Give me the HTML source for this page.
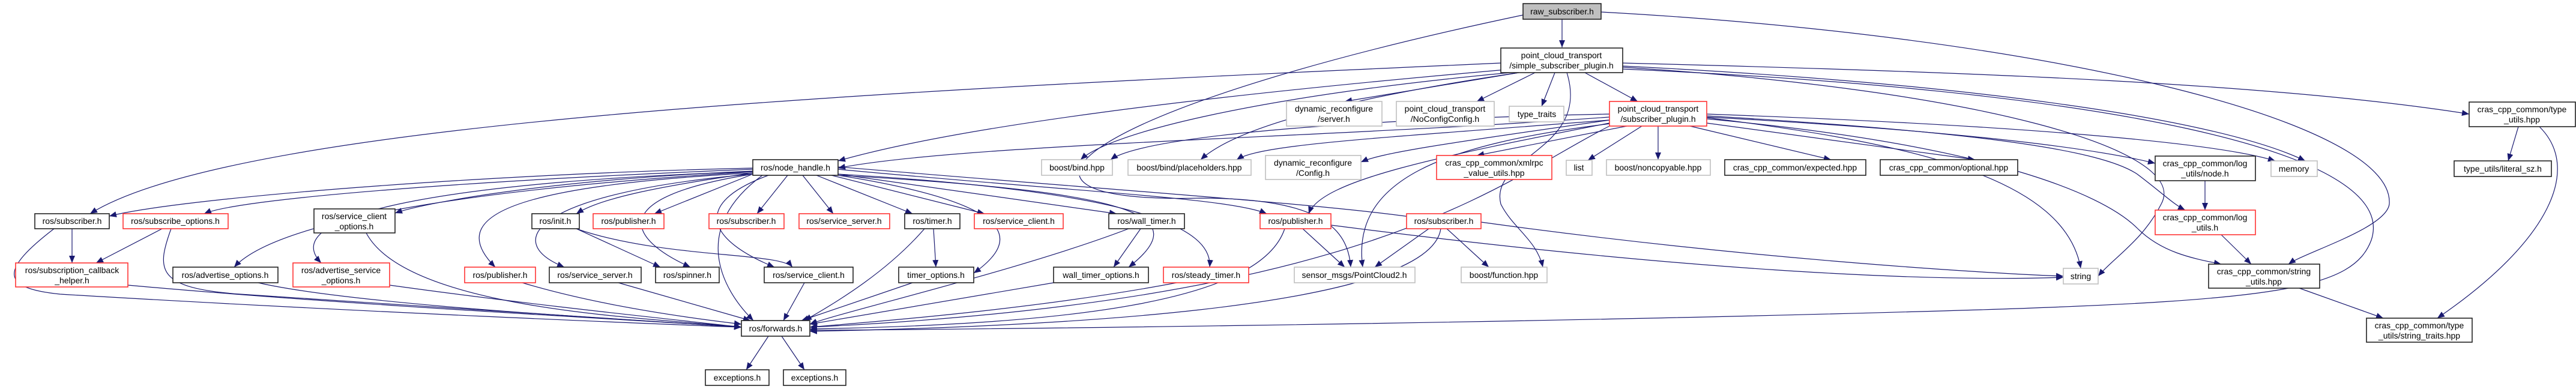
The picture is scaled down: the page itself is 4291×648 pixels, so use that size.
<!DOCTYPE html>
<html><head><meta charset="utf-8"><style>
html,body{margin:0;padding:0;background:#fff;}
svg{display:block;}
text{font-family:"Liberation Sans",sans-serif;font-size:14px;fill:#000;text-anchor:middle;}
.b{fill:#fff;stroke:#222;stroke-width:1.6;}
.r{fill:#fff;stroke:#f33;stroke-width:1.6;}
.g{fill:#fff;stroke:#bfbfbf;stroke-width:1.6;}
.e path{fill:none;stroke:#191970;stroke-width:1.2;}
</style></head><body>
<svg width="4291" height="648" viewBox="0 0 4291 648" xmlns="http://www.w3.org/2000/svg">
<defs><marker id="a" markerUnits="userSpaceOnUse" markerWidth="13" markerHeight="11" refX="12" refY="5" orient="auto"><path d="M0,0 L12,5 L0,10 z" fill="#191970"/></marker></defs>
<g class="e">
<path marker-end="url(#a)" d="M2602,32 L2602,79"/>
<path marker-end="url(#a)" d="M2537,25 C1800,180 1600,340 2000,330 C2200,330 2245,380 2250,445"/>
<path marker-end="url(#a)" d="M2667,20 C3400,60 3990,200 3980,340 C3975,380 3840,420 3812,440"/>
<path marker-end="url(#a)" d="M2500,105 C1500,150 400,200 150,356"/>
<path marker-end="url(#a)" d="M2520,115 C2000,160 1600,210 1396,268"/>
<path marker-end="url(#a)" d="M2515,121 C2100,160 1850,220 1800,266"/>
<path marker-end="url(#a)" d="M2530,121 C2200,170 2050,220 2000,266"/>
<path marker-end="url(#a)" d="M2530,121 L2240,169"/>
<path marker-end="url(#a)" d="M2557,121 L2460,169"/>
<path marker-end="url(#a)" d="M2590,121 L2568,177"/>
<path marker-end="url(#a)" d="M2640,121 L2728,169"/>
<path marker-end="url(#a)" d="M2610,121 C2650,250 2480,260 2500,340 C2520,380 2560,400 2570,445"/>
<path marker-end="url(#a)" d="M2703,105 C3300,120 3800,140 4113,190"/>
<path marker-end="url(#a)" d="M2703,110 C3300,140 3700,200 3840,268"/>
<path marker-end="url(#a)" d="M2703,112 C3300,150 3650,250 3600,340 C3570,400 3520,430 3495,460"/>
<path marker-end="url(#a)" d="M2703,115 C3500,150 4000,250 3950,400 C3920,480 3800,500 3300,516 C2500,540 1500,550 1349,550"/>
<path marker-end="url(#a)" d="M2681,195 C2200,230 1600,240 1396,280"/>
<path marker-end="url(#a)" d="M2681,200 C2400,240 2300,255 2267,270"/>
<path marker-end="url(#a)" d="M2710,210 L2460,259"/>
<path marker-end="url(#a)" d="M2735,210 L2645,267"/>
<path marker-end="url(#a)" d="M2762,210 L2762,266"/>
<path marker-end="url(#a)" d="M2815,210 L3050,266"/>
<path marker-end="url(#a)" d="M2843,205 L3290,266"/>
<path marker-end="url(#a)" d="M2843,195 C3300,220 3500,250 3590,272"/>
<path marker-end="url(#a)" d="M2843,190 C3400,210 3700,240 3790,268"/>
<path marker-end="url(#a)" d="M2843,193 C3300,220 3500,250 3560,290 C3600,320 3620,340 3640,350"/>
<path marker-end="url(#a)" d="M2843,196 C3200,240 3440,300 3466,447"/>
<path marker-end="url(#a)" d="M2843,198 C3300,240 3500,320 3560,380 C3600,420 3650,430 3700,440"/>
<path marker-end="url(#a)" d="M2681,190 C2200,200 1900,230 1850,266"/>
<path marker-end="url(#a)" d="M2681,200 C2300,230 2100,240 2060,266"/>
<path marker-end="url(#a)" d="M2681,205 C2400,260 2200,300 2180,356"/>
<path marker-end="url(#a)" d="M2690,205 C2400,240 2250,300 2270,445"/>
<path marker-end="url(#a)" d="M2681,210 C2500,300 2300,500 1349,545"/>
<path marker-end="url(#a)" d="M1254,280 C800,290 300,330 182,360"/>
<path marker-end="url(#a)" d="M1254,282 C800,300 400,330 340,356"/>
<path marker-end="url(#a)" d="M1254,285 C900,300 700,340 658,355"/>
<path marker-end="url(#a)" d="M1254,286 C700,320 450,380 390,445"/>
<path marker-end="url(#a)" d="M1254,286 C800,300 450,350 535,438"/>
<path marker-end="url(#a)" d="M1254,288 C1100,310 1000,330 960,356"/>
<path marker-end="url(#a)" d="M1254,290 L1090,356"/>
<path marker-end="url(#a)" d="M1312,292 L1261,356"/>
<path marker-end="url(#a)" d="M1337,292 L1388,356"/>
<path marker-end="url(#a)" d="M1360,292 L1520,356"/>
<path marker-end="url(#a)" d="M1385,292 L1640,356"/>
<path marker-end="url(#a)" d="M1396,290 L1860,356"/>
<path marker-end="url(#a)" d="M1396,282 C1800,320 2050,330 2110,356"/>
<path marker-end="url(#a)" d="M1396,278 C1900,320 2200,340 2355,362"/>
<path marker-end="url(#a)" d="M1254,288 C850,310 740,360 825,445"/>
<path marker-end="url(#a)" d="M1254,290 C900,320 830,400 940,445"/>
<path marker-end="url(#a)" d="M1254,290 C1000,330 1050,400 1150,445"/>
<path marker-end="url(#a)" d="M1280,292 C1150,340 1180,400 1290,445"/>
<path marker-end="url(#a)" d="M1396,292 C1700,340 1700,400 1622,455"/>
<path marker-end="url(#a)" d="M1396,292 C1900,320 1990,360 1880,445"/>
<path marker-end="url(#a)" d="M1396,290 C1900,320 2020,380 2015,445"/>
<path marker-end="url(#a)" d="M1270,292 C1150,380 1200,480 1255,534"/>
<path marker-end="url(#a)" d="M120,381 L120,438"/>
<path marker-end="url(#a)" d="M270,381 L160,438"/>
<path marker-end="url(#a)" d="M90,381 C0,450 0,480 100,490 C600,520 1100,540 1235,545"/>
<path marker-end="url(#a)" d="M285,381 C260,450 260,480 400,490 C800,515 1100,535 1235,545"/>
<path marker-end="url(#a)" d="M610,388 C680,520 1100,530 1235,545"/>
<path marker-end="url(#a)" d="M960,381 L1100,445"/>
<path marker-end="url(#a)" d="M960,381 C1100,430 1300,420 1320,445"/>
<path marker-end="url(#a)" d="M1555,381 L1559,445"/>
<path marker-end="url(#a)" d="M1540,381 C1480,450 1400,500 1340,534"/>
<path marker-end="url(#a)" d="M1900,381 L1855,445"/>
<path marker-end="url(#a)" d="M1880,381 C1700,450 1400,520 1349,540"/>
<path marker-end="url(#a)" d="M2170,381 L2240,445"/>
<path marker-end="url(#a)" d="M2140,381 C2100,500 1800,540 1349,548"/>
<path marker-end="url(#a)" d="M2217,375 C2800,450 3200,470 3437,462"/>
<path marker-end="url(#a)" d="M2380,381 L2290,445"/>
<path marker-end="url(#a)" d="M2410,381 L2480,445"/>
<path marker-end="url(#a)" d="M2400,381 C2380,520 1700,545 1349,552"/>
<path marker-end="url(#a)" d="M2467,370 C2900,430 3300,455 3437,460"/>
<path marker-end="url(#a)" d="M213,475 C600,510 1100,535 1235,545"/>
<path marker-end="url(#a)" d="M430,471 C600,510 1100,535 1235,545"/>
<path marker-end="url(#a)" d="M649,475 C900,510 1150,535 1235,545"/>
<path marker-end="url(#a)" d="M870,471 C1000,510 1150,530 1235,540"/>
<path marker-end="url(#a)" d="M1030,471 L1250,534"/>
<path marker-end="url(#a)" d="M1340,471 L1305,534"/>
<path marker-end="url(#a)" d="M1520,471 L1335,534"/>
<path marker-end="url(#a)" d="M1755,471 L1349,540"/>
<path marker-end="url(#a)" d="M1960,471 C1700,520 1400,540 1349,545"/>
<path marker-end="url(#a)" d="M1280,560 L1243,616"/>
<path marker-end="url(#a)" d="M1302,560 L1340,616"/>
<path marker-end="url(#a)" d="M3673,301 L3673,350"/>
<path marker-end="url(#a)" d="M3700,391 L3750,440"/>
<path marker-end="url(#a)" d="M3830,480 L3970,530"/>
<path marker-end="url(#a)" d="M4195,211 L4178,268"/>
<path marker-end="url(#a)" d="M4230,211 C4300,280 4250,400 4060,530"/>
</g>
<g>
<rect x="2537" y="6" width="130" height="26" fill="#bfbfbf" stroke="#222" stroke-width="1.6"/><text x="2602" y="24">raw_subscriber.h</text>
<rect class="b" x="2500" y="80" width="203" height="41"/><text x="2601" y="97">point_cloud_transport</text><text x="2601" y="114">/simple_subscriber_plugin.h</text>
<rect class="g" x="2143" y="169" width="159" height="41"/><text x="2222" y="186">dynamic_reconfigure</text><text x="2222" y="203">/server.h</text>
<rect class="g" x="2326" y="169" width="163" height="41"/><text x="2407" y="186">point_cloud_transport</text><text x="2407" y="203">/NoConfigConfig.h</text>
<rect class="g" x="2514" y="177" width="91" height="26"/><text x="2560" y="195">type_traits</text>
<rect class="r" x="2681" y="169" width="162" height="41"/><text x="2762" y="186">point_cloud_transport</text><text x="2762" y="203">/subscriber_plugin.h</text>
<rect class="b" x="4113" y="170" width="177" height="41"/><text x="4201" y="187">cras_cpp_common/type</text><text x="4201" y="204">_utils.hpp</text>
<rect class="b" x="1254" y="266" width="142" height="26"/><text x="1325" y="284">ros/node_handle.h</text>
<rect class="g" x="1735" y="266" width="118" height="26"/><text x="1794" y="284">boost/bind.hpp</text>
<rect class="g" x="1879" y="266" width="205" height="26"/><text x="1981" y="284">boost/bind/placeholders.hpp</text>
<rect class="g" x="2108" y="259" width="159" height="40"/><text x="2187" y="276">dynamic_reconfigure</text><text x="2187" y="293">/Config.h</text>
<rect class="r" x="2393" y="259" width="192" height="40"/><text x="2489" y="276">cras_cpp_common/xmlrpc</text><text x="2489" y="293">_value_utils.hpp</text>
<rect class="g" x="2609" y="267" width="43" height="25"/><text x="2630" y="284">list</text>
<rect class="g" x="2676" y="266" width="173" height="26"/><text x="2762" y="284">boost/noncopyable.hpp</text>
<rect class="b" x="2873" y="266" width="235" height="26"/><text x="2990" y="284">cras_cpp_common/expected.hpp</text>
<rect class="b" x="3132" y="266" width="229" height="26"/><text x="3246" y="284">cras_cpp_common/optional.hpp</text>
<rect class="b" x="3590" y="260" width="167" height="41"/><text x="3673" y="277">cras_cpp_common/log</text><text x="3673" y="294">_utils/node.h</text>
<rect class="g" x="3783" y="268" width="77" height="26"/><text x="3821" y="286">memory</text>
<rect class="b" x="4088" y="268" width="162" height="26"/><text x="4169" y="286">type_utils/literal_sz.h</text>
<rect class="b" x="58" y="356" width="124" height="25"/><text x="120" y="373">ros/subscriber.h</text>
<rect class="r" x="205" y="356" width="175" height="25"/><text x="292" y="373">ros/subscribe_options.h</text>
<rect class="b" x="523" y="348" width="135" height="40"/><text x="590" y="365">ros/service_client</text><text x="590" y="382">_options.h</text>
<rect class="b" x="886" y="356" width="79" height="25"/><text x="925" y="373">ros/init.h</text>
<rect class="r" x="988" y="356" width="118" height="25"/><text x="1047" y="373">ros/publisher.h</text>
<rect class="r" x="1181" y="356" width="125" height="25"/><text x="1243" y="373">ros/subscriber.h</text>
<rect class="r" x="1331" y="356" width="151" height="25"/><text x="1406" y="373">ros/service_server.h</text>
<rect class="b" x="1507" y="356" width="92" height="25"/><text x="1553" y="373">ros/timer.h</text>
<rect class="r" x="1623" y="356" width="148" height="25"/><text x="1697" y="373">ros/service_client.h</text>
<rect class="b" x="1847" y="356" width="126" height="25"/><text x="1910" y="373">ros/wall_timer.h</text>
<rect class="r" x="2099" y="356" width="118" height="25"/><text x="2158" y="373">ros/publisher.h</text>
<rect class="r" x="2343" y="356" width="124" height="25"/><text x="2405" y="373">ros/subscriber.h</text>
<rect class="r" x="3590" y="350" width="167" height="41"/><text x="3673" y="367">cras_cpp_common/log</text><text x="3673" y="384">_utils.h</text>
<rect class="r" x="26" y="438" width="187" height="40"/><text x="120" y="455">ros/subscription_callback</text><text x="120" y="472">_helper.h</text>
<rect class="b" x="288" y="445" width="175" height="26"/><text x="375" y="463">ros/advertise_options.h</text>
<rect class="r" x="488" y="438" width="161" height="40"/><text x="568" y="455">ros/advertise_service</text><text x="568" y="472">_options.h</text>
<rect class="r" x="774" y="445" width="118" height="26"/><text x="833" y="463">ros/publisher.h</text>
<rect class="b" x="915" y="445" width="153" height="26"/><text x="991" y="463">ros/service_server.h</text>
<rect class="b" x="1092" y="445" width="106" height="26"/><text x="1145" y="463">ros/spinner.h</text>
<rect class="b" x="1273" y="445" width="148" height="26"/><text x="1347" y="463">ros/service_client.h</text>
<rect class="b" x="1497" y="445" width="125" height="26"/><text x="1559" y="463">timer_options.h</text>
<rect class="b" x="1755" y="445" width="158" height="26"/><text x="1834" y="463">wall_timer_options.h</text>
<rect class="r" x="1938" y="445" width="142" height="26"/><text x="2009" y="463">ros/steady_timer.h</text>
<rect class="g" x="2156" y="445" width="201" height="26"/><text x="2256" y="463">sensor_msgs/PointCloud2.h</text>
<rect class="g" x="2434" y="445" width="143" height="26"/><text x="2505" y="463">boost/function.hpp</text>
<rect class="g" x="3437" y="447" width="58" height="26"/><text x="3466" y="465">string</text>
<rect class="b" x="3679" y="440" width="185" height="40"/><text x="3771" y="457">cras_cpp_common/string</text><text x="3771" y="474">_utils.hpp</text>
<rect class="b" x="1235" y="534" width="114" height="26"/><text x="1292" y="552">ros/forwards.h</text>
<rect class="b" x="3942" y="530" width="176" height="40"/><text x="4030" y="547">cras_cpp_common/type</text><text x="4030" y="564">_utils/string_traits.hpp</text>
<rect class="b" x="1175" y="616" width="106" height="26"/><text x="1228" y="634">exceptions.h</text>
<rect class="b" x="1305" y="616" width="104" height="26"/><text x="1357" y="634">exceptions.h</text>
</g>
</svg>
</body></html>
